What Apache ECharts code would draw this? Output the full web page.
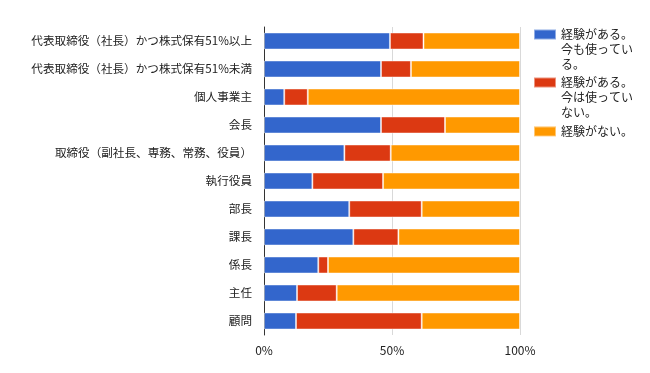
<!DOCTYPE html>
<html><head><meta charset="utf-8">
<script src="https://cdn.jsdelivr.net/npm/echarts@6/dist/echarts.min.js"></script>
<style>html,body{margin:0;padding:0;background:#fff}#c{width:650px;height:373px}</style>
</head><body><div id="c"></div>
<script>
const categories = ['代表取締役（社長）かつ株式保有51%以上','代表取締役（社長）かつ株式保有51%未満','個人事業主','会長','取締役（副社長、専務、常務、役員）','執行役員','部長','課長','係長','主任','顧問'];
const seriesNames = ['経験がある。今も使っている。','経験がある。今は使っていない。','経験がない。'];
const usingNow = [49.2, 45.7, 7.9, 45.7, 31.4, 18.9, 33.3, 34.9, 21.2, 12.9, 12.5];
const usedBefore = [13.1, 11.7, 9.2, 25.0, 18.1, 27.6, 28.3, 17.6, 3.8, 15.5, 49.1];
const never = [37.7, 42.6, 82.9, 29.3, 50.5, 53.5, 38.4, 47.5, 75.0, 71.6, 38.4];
const xTicks = [0, 50, 100];
const colors = ['#3366cc','#dc3912','#ff9900'];
const FONT = '"Noto Sans CJK JP", "Noto Sans", sans-serif';

const chart = echarts.init(document.getElementById('c'), null, {renderer:'canvas'});
const mkSeries = (name, data, color) => ({
  name, type:'bar', stack:'s', data, barWidth:17,
  itemStyle:{color, borderColor:'rgba(255,255,255,0.45)', borderWidth:1},
  emphasis:{disabled:true}
});
const legText = {fontFamily:FONT, fontSize:12, color:'#222', lineHeight:14.8, width:73, overflow:'break'};
const tallIcon = 'path://M0,0H22V10H0Z M0,39.6L22,39.6Z';
chart.setOption({
  animation:false,
  textStyle:{fontFamily:FONT},
  grid:{left:264, right:130, top:27, bottom:38, containLabel:false},
  legend:[
    {orient:'vertical', left:533, top:27, padding:0, itemWidth:22, itemHeight:39.6, icon:tallIcon, data:[seriesNames[0]], textStyle:legText, selectedMode:false},
    {orient:'vertical', left:533, top:75, padding:0, itemWidth:22, itemHeight:39.6, icon:tallIcon, data:[seriesNames[1]], textStyle:legText, selectedMode:false},
    {orient:'vertical', left:533, top:124, padding:0, itemWidth:22, itemHeight:10, icon:'rect', data:[seriesNames[2]], textStyle:legText, selectedMode:false}
  ],
  xAxis:{type:'value', min:xTicks[0], max:xTicks[xTicks.length-1], interval:50,
    axisLine:{show:false}, axisTick:{show:false},
    splitLine:{show:true, lineStyle:{color:'#d9d9d9', width:1}},
    axisLabel:{formatter:'{value}%', color:'#222', fontSize:12, margin:9, fontFamily:FONT}},
  yAxis:{type:'category', data:categories, inverse:true,
    axisLine:{show:true, lineStyle:{color:'#333', width:1}}, axisTick:{show:false},
    axisLabel:{color:'#222', fontSize:11.6, margin:12, fontFamily:FONT}},
  series:[mkSeries(seriesNames[0], usingNow, colors[0]), mkSeries(seriesNames[1], usedBefore, colors[1]), mkSeries(seriesNames[2], never, colors[2])]
});
</script></body></html>
